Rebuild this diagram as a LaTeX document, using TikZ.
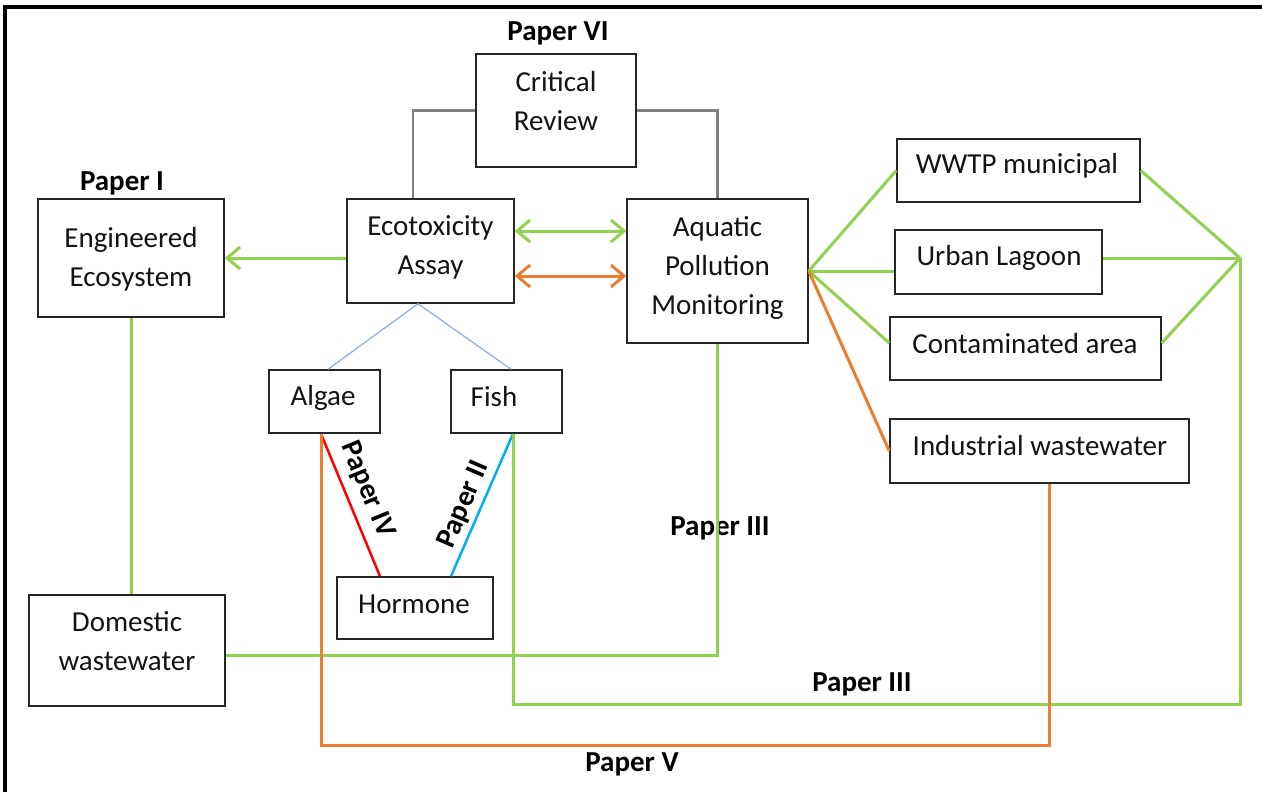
\documentclass[tikz,border=0pt]{standalone}
\usepackage{fontspec}
\setmainfont{Carlito}
\usetikzlibrary{arrows.meta}
\definecolor{lgreen}{HTML}{92D050}
\definecolor{orng}{HTML}{ED7D31}
\definecolor{gry}{HTML}{808080}
\definecolor{lblue}{HTML}{95B3D7}
\definecolor{rd}{HTML}{FF0000}
\definecolor{cyanb}{HTML}{00B0F0}
\tikzset{
  box/.style={draw=black!85, line width=1.5pt, inner sep=0pt},
  txt/.style={align=center, inner sep=0pt, text=black!92,
    font=\fontsize{29}{39}\selectfont},
  lab/.style={font=\bfseries\fontsize{29}{34}\selectfont, inner sep=0pt},
  gline/.style={draw=lgreen, line width=3pt},
  oline/.style={draw=orng, line width=3pt},
  grayline/.style={draw=gry, line width=2.5pt},
  thinblue/.style={draw=lblue, line width=1.3pt},
  barb/.style={-{Straight Barb[length=13pt,width=22pt,line width=3pt]}},
  dbarb/.style={{Straight Barb[length=13pt,width=22pt,line width=3pt]}-{Straight Barb[length=13pt,width=22pt,line width=3pt]}}
}
\begin{document}
\begin{tikzpicture}[x=1pt,y=-1pt]
\useasboundingbox (0,0) rectangle (1262,792);
\fill[white] (0,0) rectangle (1262,792);
% outer frame
\coordinate (fTL) at (5,7);
\coordinate (fTR) at (1262,7);
\coordinate (fBL) at (5,792);
\draw[line width=3.5pt, black] (fBL) -- (fTL) -- (fTR);

% boxes
\node[box, minimum width=160pt, minimum height=113pt] (crit) at (556,110.5) {};
\node[box, minimum width=167pt, minimum height=104pt] (eco) at (430.5,251) {};
\node[box, minimum width=181pt, minimum height=144pt] (aq) at (717.5,271) {};
\node[box, minimum width=186pt, minimum height=118pt] (eng) at (131,258) {};
\node[box, minimum width=196pt, minimum height=111pt] (dom) at (127,650.5) {};
\node[box, minimum width=111pt, minimum height=63pt] (alg) at (324.5,401.5) {};
\node[box, minimum width=111pt, minimum height=63pt] (fish) at (506.5,401.5) {};
\node[box, minimum width=156pt, minimum height=62pt] (horm) at (415,608) {};
\node[box, minimum width=243pt, minimum height=63pt] (wwtp) at (1018.5,170.5) {};
\node[box, minimum width=207pt, minimum height=64pt] (urb) at (998.5,262) {};
\node[box, minimum width=271pt, minimum height=63pt] (con) at (1025.5,348.5) {};
\node[box, minimum width=299pt, minimum height=64pt] (ind) at (1039.5,451) {};

% box texts
\node[txt] (critT) at (556,101.5) {Critical\\Review};
\node[txt] (ecoT) at (430.5,247.5) {Ecotoxicity\\Assay};
\node[txt] (aqT) at (717.5,268) {Aquatic\\Pollution\\Monitoring};
\node[txt] (engT) at (131,259) {Engineered\\Ecosystem};
\node[txt] (domT) at (127,641.5) {Domestic\\wastewater};
\node[txt] (algT) at (323,398) {Algae};
\node[txt] (fishT) at (494,397) {Fish};
\node[txt] (hormT) at (414,604) {Hormone};
\node[txt] (wwtpT) at (1017,166) {WWTP municipal};
\node[txt] (urbT) at (999,258) {Urban Lagoon};
\node[txt] (conT) at (1025,343.5) {Contaminated area};
\node[txt] (indT) at (1040,446) {Industrial wastewater};

% labels
\node[lab] (p6) at (558,33) {Paper VI};
\node[lab] (p1) at (122,183) {Paper I};
\node[lab] (p3a) at (720,528) {Paper III};
\node[lab] (p3b) at (862,684) {Paper III};
\node[lab] (p5) at (632,764) {Paper V};
\node[lab, rotate=-67.7] (p4) at (367,490) {Paper IV};
\node[lab, rotate=66.7] (p2) at (464,505) {Paper II};

% gray connectors to critical review
\coordinate (ecoN) at ([xshift=-17.5pt]eco.north);
\draw[grayline] (crit.west) -| (ecoN);
\draw[grayline] (crit.east) -| (aq.north);

% ecotox -> engineered
\coordinate (ecoW) at ([yshift=-7pt]eco.west);
\draw[gline, barb] (ecoW) -- (ecoW -| eng.east);

% double arrows
\coordinate (g1) at ([yshift=20pt]eco.east);
\coordinate (o1) at ([yshift=-25pt]eco.east);
\draw[gline, dbarb] (g1) -- (g1 -| aq.west);
\draw[oline, dbarb] (o1) -- (o1 -| aq.west);

% ecotox to algae and fish
\coordinate (ecoS) at ([xshift=-12.5pt]eco.south);
\coordinate (algN) at ([xshift=3.5pt]alg.north);
\coordinate (fishN) at ([xshift=4.5pt]fish.north);
\draw[thinblue] (ecoS) -- (algN);
\draw[thinblue] (ecoS) -- (fishN);

% algae / fish to hormone
\coordinate (algS) at ([xshift=-3.5pt]alg.south);
\coordinate (fishS) at ([xshift=6.5pt]fish.south);
\coordinate (hormL) at ([xshift=-35pt]horm.north);
\coordinate (hormR) at ([xshift=36pt]horm.north);
\draw[draw=rd, line width=2.5pt] (algS) -- (hormL);
\draw[draw=cyanb, line width=2.5pt] (fishS) -- (hormR);

% engineered to domestic
\draw[gline] (eng.south) -- (eng.south |- dom.north);

% aquatic to domestic
\coordinate (domE) at ([yshift=-4.5pt]dom.east);
\draw[gline] (aq.south) |- (domE);

% aquatic to sites
\draw[gline] (aq.east) -- (wwtp.west);
\draw[gline] (aq.east) -- (aq.east -| urb.west);
\coordinate (conW) at ([yshift=5.5pt]con.west);
\draw[gline] (aq.east) -- (conW);
\draw[oline] (aq.east) -- (ind.west);

% sites to junction
\coordinate (J) at (1240,258);
\coordinate (urbE) at ([yshift=4pt]urb.east);
\coordinate (conE) at ([yshift=5.5pt]con.east);
\draw[gline] (wwtp.east) -- (J);
\draw[gline] (urbE) -- (J);
\draw[gline] (conE) -- (J);

% junction to fish
\coordinate (J2) at (1240,704);
\draw[gline] (J) -- (J2) -| (fishS);

% industrial to algae (orange)
\coordinate (ob) at (1049,745);
\draw[oline] (ob |- ind.south) -- (ob) -| (algS);
\end{tikzpicture}
\end{document}
